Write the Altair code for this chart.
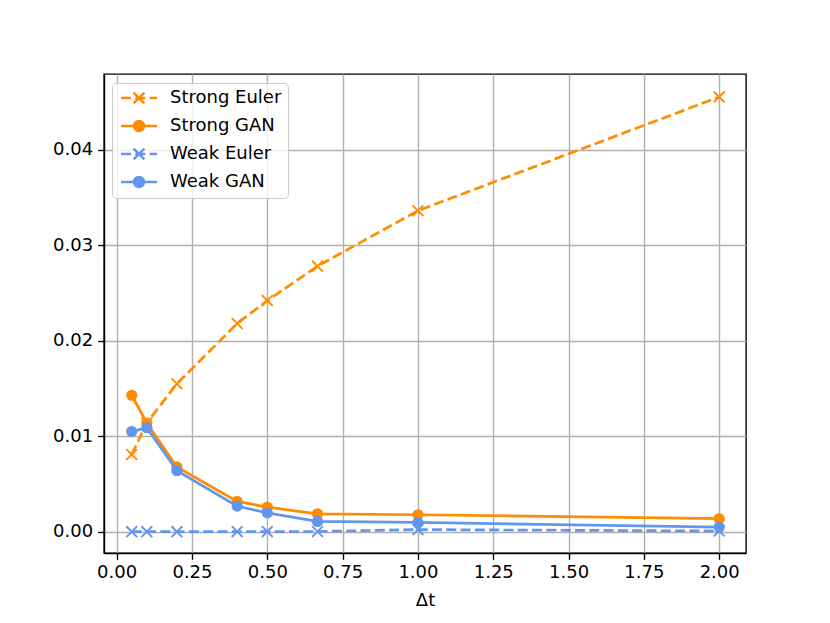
import altair as alt
import pandas as pd

# ---- data ----
dt = [0.05, 0.1, 0.2, 0.4, 0.5, 2 / 3, 1.0, 2.0]
strong_euler = [0.0081, 0.0114, 0.0155, 0.0218, 0.0242, 0.0278, 0.0336, 0.0455]
strong_gan = [0.0143, 0.0114, 0.0068, 0.0032, 0.0026, 0.0019, 0.0018, 0.0014]
weak_euler = [0.00003, 0.00003, 0.00003, 0.00004, 0.00004, 0.00005, 0.00025, 0.0001]
weak_gan = [0.0105, 0.0109, 0.0064, 0.0027, 0.0020, 0.0011, 0.0010, 0.0005]

series_names = ["Strong Euler", "Strong GAN", "Weak Euler", "Weak GAN"]
series_values = [strong_euler, strong_gan, weak_euler, weak_gan]
series_colors = ["#FF8C00", "#FF8C00", "#6495ED", "#6495ED"]
x_ticks = [0, 0.25, 0.5, 0.75, 1.0, 1.25, 1.5, 1.75, 2.0]
y_ticks = [0, 0.01, 0.02, 0.03, 0.04]

rows = []
for name, vals in zip(series_names, series_values):
    for x, y in zip(dt, vals):
        rows.append({"series": name, "dt": x, "err": y})
df = pd.DataFrame(rows)

FONT = "DejaVu Sans"
X_PATH = "M-1,-1L1,1M-1,1L1,-1"
LEG_EULER = ("M-3.6,0L-1.6,0M-0.74,0L1.26,0M2.12,0L3.6,0"
             "M-1.08,-1.08L1.08,1.08M-1.08,1.08L1.08,-1.08")
LEG_GAN = "M-3.6,0L3.6,0M1,0A1,1,0,1,1,-1,0A1,1,0,1,1,1,0Z"
legend_paths = [LEG_EULER, LEG_GAN, LEG_EULER, LEG_GAN]

xscale = alt.Scale(domain=[-0.042, 2.089], nice=False, zero=False)
yscale = alt.Scale(domain=[-0.0022, 0.0479], nice=False, zero=False)

x_enc = alt.X("dt:Q", scale=xscale,
              axis=alt.Axis(values=x_ticks, format=".2f", title="Δt"))
y_enc = alt.Y("err:Q", scale=yscale,
              axis=alt.Axis(values=y_ticks, format=".2f", title=None))

base = alt.Chart(df)
layers = []
for name, color in zip(series_names, series_colors):
    sub = base.transform_filter(alt.datum.series == name)
    euler = "Euler" in name
    line_kwargs = dict(color=color, strokeWidth=2.7)
    if euler:
        line_kwargs["strokeDash"] = [10, 4.3]
    layers.append(sub.mark_line(**line_kwargs).encode(x=x_enc, y=y_enc))
    if euler:
        pts = sub.mark_point(shape=X_PATH, filled=False, size=117,
                             strokeWidth=1.9, color=color, opacity=1)
    else:
        pts = sub.mark_point(shape="circle", filled=True, size=125,
                             color=color, opacity=1)
    layers.append(pts.encode(x=x_enc, y=y_enc))

legend = alt.Legend(
    title=None, orient="none", legendX=8, legendY=9,
    labelFont=FONT, labelFontSize=18, labelColor="black",
    symbolSize=100, symbolStrokeWidth=2.5,
    symbolOffset=12, labelOffset=22, padding=6, rowPadding=7,
    fillColor="rgba(255,255,255,0.8)", strokeColor="#cccccc",
    cornerRadius=4,
)
legend_layer = base.transform_filter("false").mark_point(
    filled=False, size=100, strokeWidth=2.5, opacity=1
).encode(
    x=x_enc, y=y_enc,
    shape=alt.Shape("series:N", scale=alt.Scale(domain=series_names, range=legend_paths), legend=legend),
    stroke=alt.Stroke("series:N", scale=alt.Scale(domain=series_names, range=series_colors), legend=legend),
    fill=alt.Fill("series:N", scale=alt.Scale(domain=series_names, range=series_colors), legend=legend),
)
layers.append(legend_layer)

chart = alt.layer(*layers).properties(
    width=642, height=479,
    autosize=alt.AutoSizeParams(type="none"),
    padding={"left": 96, "top": 66, "right": 76, "bottom": 60},
    background="white",
).configure_view(
    stroke="black", strokeWidth=1.4
).configure_axis(
    labelFont=FONT, labelFontSize=18, labelColor="black",
    titleFont=FONT, titleFontSize=18, titleColor="black", titleFontWeight="normal",
    tickColor="black", tickSize=6.3, tickWidth=1.4,
    domainColor="black", domainWidth=1.4,
    gridColor="#b0b0b0", gridWidth=1.4,
    labelPadding=4,
).configure_axisX(titlePadding=10).configure_axisY(labelPadding=5)

chart.save("out.html", embed_options={"renderer": "svg", "actions": False})
